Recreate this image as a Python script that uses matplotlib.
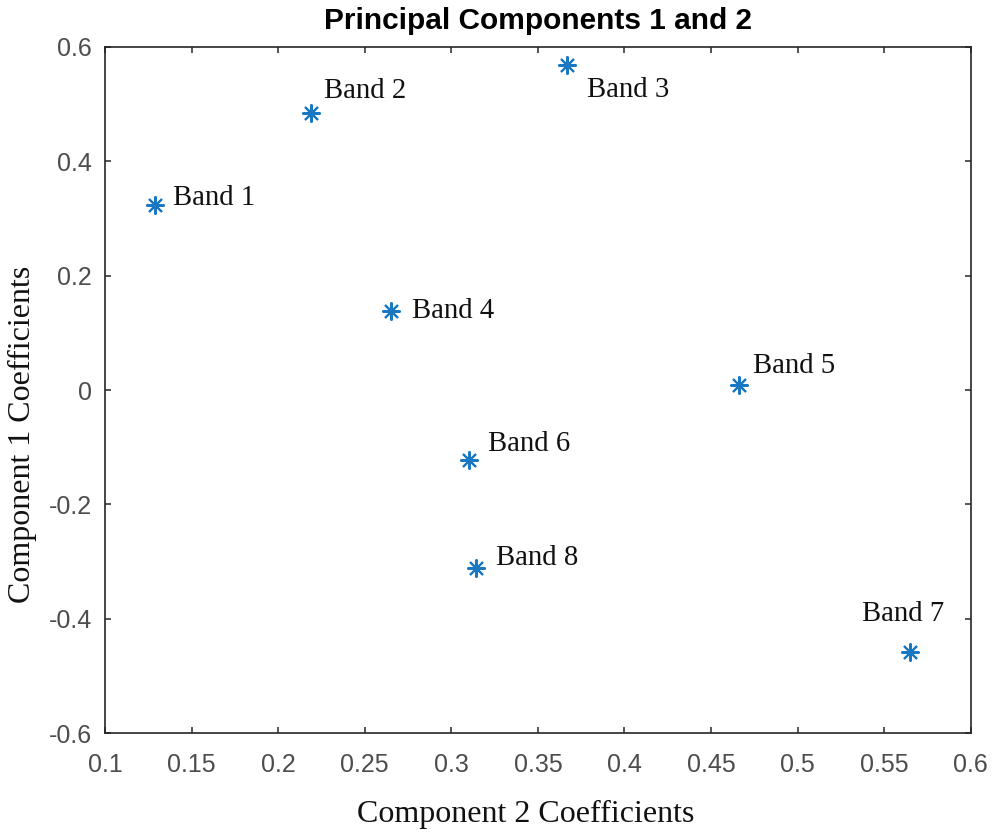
import matplotlib
matplotlib.use("Agg")
import matplotlib.pyplot as plt

# Principal component coefficients for each band
bands = ["Band 1", "Band 2", "Band 3", "Band 4", "Band 5", "Band 6", "Band 7", "Band 8"]
comp2 = [0.129, 0.219, 0.367, 0.265, 0.466, 0.310, 0.565, 0.314]
comp1 = [0.323, 0.484, 0.568, 0.138, 0.008, -0.122, -0.458, -0.311]

# label offsets (points) relative to each marker
label_dx = [13, 9, 14, 15, 10, 14, -35, 15]
label_dy = [5, 16, -18, 0, 14, 11, 27, 7]

xticks = [0.1, 0.15, 0.2, 0.25, 0.3, 0.35, 0.4, 0.45, 0.5, 0.55, 0.6]
xticklabels = ["0.1", "0.15", "0.2", "0.25", "0.3", "0.35", "0.4", "0.45", "0.5", "0.55", "0.6"]
yticks = [-0.6, -0.4, -0.2, 0, 0.2, 0.4, 0.6]
yticklabels = ["-0.6", "-0.4", "-0.2", "0", "0.2", "0.4", "0.6"]

fig = plt.figure(figsize=(9.93, 8.33), dpi=100)
ax = fig.add_axes([0.1057, 0.12, 0.872, 0.8236])

ax.plot(comp2, comp1, linestyle="none", marker=(8, 2, 0), markersize=13,
        markeredgewidth=1.5, color="#1a78c2")

for name, x, y, dx, dy in zip(bands, comp2, comp1, label_dx, label_dy):
    ax.annotate(name, (x, y), xytext=(dx, dy), textcoords="offset points",
                ha="left", va="center", fontsize=20.7, family="Liberation Serif",
                color="#111111")

ax.set_xlim(0.1, 0.6)
ax.set_ylim(-0.6, 0.6)
ax.set_xticks(xticks)
ax.set_xticklabels(xticklabels)
ax.set_yticks(yticks)
ax.set_yticklabels(yticklabels)

for lab in ax.get_xticklabels() + ax.get_yticklabels():
    lab.set_family("Liberation Sans")
    lab.set_fontsize(18)
    lab.set_color("#4d4d4d")

ax.tick_params(direction="in", length=4.5, width=1.1, color="#262626",
               top=True, right=True)
ax.tick_params(axis="x", pad=14.5)
ax.tick_params(axis="y", pad=9.5)
for sp in ax.spines.values():
    sp.set_color("#262626")
    sp.set_linewidth(1.2)

ax.set_title("Principal Components 1 and 2", family="Liberation Sans",
             fontweight="bold", fontsize=21.5, pad=13)
ax.set_xlabel("Component 2 Coefficients", family="Liberation Serif",
              fontsize=23, va="center", color="#111111")
ax.set_ylabel("Component 1 Coefficients", family="Liberation Serif",
              fontsize=23, va="center", color="#111111")
ax.xaxis.set_label_coords(0.4856, -0.118)
ax.yaxis.set_label_coords(-0.0947, 0.436)

fig.savefig("out.png", dpi=100)
